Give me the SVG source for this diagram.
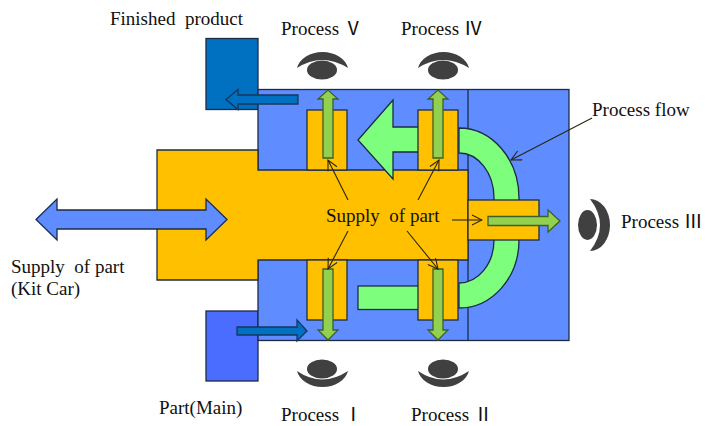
<svg xmlns="http://www.w3.org/2000/svg" width="705" height="426" viewBox="0 0 705 426">
<defs>
<style>
.s{stroke:#1d2b45;stroke-width:1.3}
.blue{fill:#5f8dff}
.org{fill:#ffc000}
.flow{fill:#7dff7d}
.v{fill:#92d050;stroke:#3f5f25;stroke-width:1.3}
.dk{fill:#0070c0;stroke:#17365d;stroke-width:1.3}
.eye{fill:#404040}
.l{stroke:#2a2510;stroke-width:1.1;fill:none;marker-end:url(#o)}
text{font-family:"Liberation Serif","Noto Sans CJK JP",serif;font-size:19px;fill:#111;white-space:pre}
</style>
<marker id="o" viewBox="0 0 12 12" refX="11" refY="6" markerWidth="12" markerHeight="12" markerUnits="userSpaceOnUse" orient="auto"><path d="M1 1L11 6L1 11" fill="none" stroke="#2a2510" stroke-width="1.1"/></marker>
</defs>
<g id="finished-box"><rect class="s" x="206" y="38.500" width="52" height="71" fill="#0070c0"/></g>
<g id="part-box"><rect class="s" x="206" y="311" width="52" height="70" fill="#4a6dff"/></g>
<g id="station"><rect class="s blue" x="258" y="89.500" width="311" height="251"/><path class="s" d="M468 89.500V340.500" fill="none"/></g>
<g id="supply-core"><path class="s org" d="M157 150H258V170H468V260H258V280H157Z"/></g>
<g id="process-flow">
<path class="s flow" d="M358 140L393 100V127H420V152H393V179Z"/>
<rect class="s flow" x="358" y="286" width="62" height="23.500"/>
<path class="s flow" d="M459 128A60 70 0 0 1 519 198V240A60 68 0 0 1 459 308V283A35 43 0 0 0 494 240V198A35 45 0 0 0 459 153Z"/>
</g>
<g id="branches">
<rect class="s org" x="307" y="110" width="40" height="60"/>
<rect class="s org" x="418" y="110" width="40" height="60"/>
<rect class="s org" x="307" y="260" width="40" height="60"/>
<rect class="s org" x="418" y="260" width="40" height="60"/>
<rect class="s org" x="468" y="200" width="71" height="40"/>
</g>
<g id="connectors">
<path class="dk" d="M298 95V104H238V109.500L226 99.500L238 89.500V95Z"/>
<path class="dk" d="M237 327H297V320L307 331L297 341V335H237Z"/>
<path class="s blue" d="M36 219.500L57 199V210H206V199L227 219.500L206 240V229H57V240Z"/>
<path class="v" d="M323 158V99H318L328 90L338 99H333V158Z"/>
<path class="v" d="M433 158V99H428L438 90L448 99H443V158Z"/>
<path class="v" d="M323 269V330H318L328 340L338 330H333V269Z"/>
<path class="v" d="M433 269V330H428L438 340L448 330H443V269Z"/>
<path class="v" d="M488 216.500H548V210L560 221L548 232V225.500H488Z"/>
<path class="l" d="M348 200L328 160"/>
<path class="l" d="M418 200L439 160"/>
<path class="l" d="M348 231L328 269"/>
<path class="l" d="M407 231L438 269"/>
<path class="l" d="M452 220H482"/>
<path class="l" d="M592 118L511 160"/>
</g>
<g id="eye-5"><path class="eye" d="M297 68A26 20 0 0 1 348 68Q322 52 297 68Z"/><ellipse class="eye" cx="322" cy="70" rx="15" ry="9.500"/></g>
<g id="eye-4"><path class="eye" d="M418 68A26 20 0 0 1 469 68Q443 52 418 68Z"/><ellipse class="eye" cx="443" cy="70" rx="15" ry="9.500"/></g>
<g id="eye-1"><path class="eye" d="M297 371A26 20 0 0 0 348 371Q322 388 297 371Z"/><ellipse class="eye" cx="322" cy="369" rx="15" ry="9.500"/></g>
<g id="eye-2"><path class="eye" d="M418 371A26 20 0 0 0 469 371Q443 388 418 371Z"/><ellipse class="eye" cx="443" cy="369" rx="15" ry="9.500"/></g>
<g id="eye-3"><path class="eye" d="M590 199A20 26 0 0 1 590 251Q610 225 590 199Z"/><ellipse class="eye" cx="587.500" cy="225" rx="9.500" ry="15"/></g>
<g id="labels">
<text x="110" y="25">Finished  product</text>
<text x="281" y="35">Process Ⅴ</text>
<text x="401" y="35">Process Ⅳ</text>
<text x="592" y="116">Process flow</text>
<text x="621" y="228">Process Ⅲ</text>
<text x="326" y="222">Supply  of part</text>
<text x="11" y="273">Supply  of part</text>
<text x="11" y="295">(Kit Car)</text>
<text x="159" y="414">Part(Main)</text>
<text x="281" y="421">Process Ⅰ</text>
<text x="411" y="421">Process Ⅱ</text>
</g>
</svg>
